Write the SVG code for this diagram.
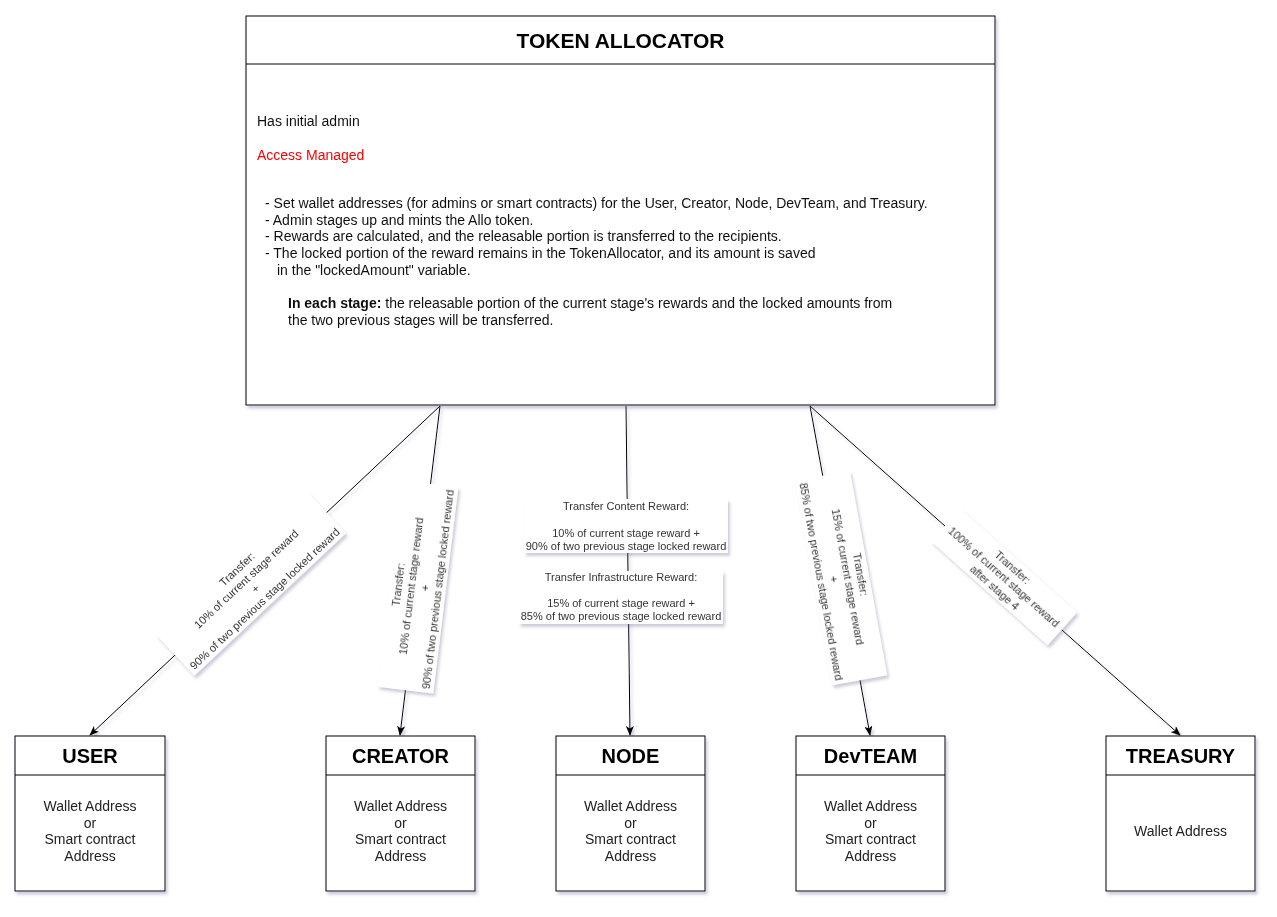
<svg xmlns="http://www.w3.org/2000/svg" width="1277" height="917" viewBox="0 0 1277 917">
<defs>
<filter id="sh" x="-10%" y="-10%" width="120%" height="130%">
<feDropShadow dx="2" dy="3" stdDeviation="1.6" flood-color="#6d6d99" flood-opacity="0.35"/>
</filter>
<marker id="arr" viewBox="0 0 10 8" refX="9" refY="4" markerWidth="10" markerHeight="8" markerUnits="userSpaceOnUse" orient="auto">
<path d="M0,0 L10,4 L0,8 L2.5,4 Z" fill="#000"/>
</marker>
<style>
.box{fill:#fff;stroke:#000;stroke-width:1}
.ttl{font-family:"Liberation Sans",Arial,sans-serif;font-weight:bold;font-size:20px;fill:#000;text-anchor:middle}
.body{font-family:"Liberation Sans",Arial,sans-serif;font-size:14px;fill:#222;text-anchor:middle}
.txt{font-family:"Liberation Sans",Arial,sans-serif;font-size:14px;fill:#111}
.lbl{font-family:"Liberation Sans",Arial,sans-serif;font-size:11px;fill:#333;text-anchor:middle}
.lbg{fill:#fff;stroke:none}
.edge{stroke:#000;stroke-width:1;fill:none;marker-end:url(#arr)}
</style>
</defs>
<rect width="1277" height="917" fill="#fff"/>

<g id="connectors" filter="url(#sh)">
<line class="edge" x1="440" y1="406" x2="90" y2="735"/>
<line class="edge" x1="440" y1="406" x2="400" y2="735"/>
<line class="edge" x1="626" y1="406" x2="630" y2="735"/>
<line class="edge" x1="810" y1="406" x2="870" y2="735"/>
<line class="edge" x1="810" y1="406" x2="1180" y2="735"/>
</g>

<g id="edge-labels" filter="url(#sh)">
<g id="label-user" transform="translate(251,584) rotate(-43.23)">
<rect class="lbg" x="-104" y="-28" width="208" height="56"/>
<text class="lbl" y="-16.5">Transfer:</text>
<text class="lbl" y="-3">10% of current stage reward</text>
<text class="lbl" y="10.5">+</text>
<text class="lbl" y="24">90% of two previous stage locked reward</text>
</g>
<g id="label-creator" transform="translate(418,587) rotate(-83.07)">
<rect class="lbg" x="-104" y="-28" width="208" height="56"/>
<text class="lbl" y="-16.5">Transfer:</text>
<text class="lbl" y="-3">10% of current stage reward</text>
<text class="lbl" y="10.5">+</text>
<text class="lbl" y="24">90% of two previous stage locked reward</text>
</g>
<g id="label-node-content">
<rect class="lbg" x="524" y="499" width="204" height="54"/>
<text class="lbl" x="626" y="510">Transfer Content Reward:</text>
<text class="lbl" x="626" y="537">10% of current stage reward +</text>
<text class="lbl" x="626" y="550">90% of two previous stage locked reward</text>
</g>
<g id="label-node-infra">
<rect class="lbg" x="519" y="571" width="204" height="53"/>
<text class="lbl" x="621" y="581">Transfer Infrastructure Reward:</text>
<text class="lbl" x="621" y="607">15% of current stage reward +</text>
<text class="lbl" x="621" y="620">85% of two previous stage locked reward</text>
</g>
<g id="label-devteam" transform="translate(841,578) rotate(79.66)">
<rect class="lbg" x="-104" y="-28" width="208" height="56"/>
<text class="lbl" y="-16.5">Transfer:</text>
<text class="lbl" y="-3">15% of current stage reward</text>
<text class="lbl" y="10.5">+</text>
<text class="lbl" y="24">85% of two previous stage locked reward</text>
</g>
<g id="label-treasury" transform="translate(1004,577) rotate(41.64)">
<rect class="lbg" x="-78" y="-22" width="156" height="44"/>
<text class="lbl" y="-9.5">Transfer:</text>
<text class="lbl" y="4">100% of current stage reward</text>
<text class="lbl" y="17.5">after stage 4</text>
</g>
</g>

<g id="token-allocator" filter="url(#sh)">
<rect class="box" x="246" y="16" width="749" height="389"/>
<line x1="246" y1="64" x2="995" y2="64" stroke="#000"/>
<text class="ttl" x="620.5" y="47.5" style="font-size:21px">TOKEN ALLOCATOR</text>
<text class="txt" x="257" y="126">Has initial admin</text>
<text class="txt" x="257" y="160" style="fill:#ff0000">Access Managed</text>
<text class="txt" x="265" y="208">- Set wallet addresses (for admins or smart contracts) for the User, Creator, Node, DevTeam, and Treasury.</text>
<text class="txt" x="265" y="224.5">- Admin stages up and mints the Allo token.</text>
<text class="txt" x="265" y="241">- Rewards are calculated, and the releasable portion is transferred to the recipients.</text>
<text class="txt" x="265" y="258">- The locked portion of the reward remains in the TokenAllocator, and its amount is saved</text>
<text class="txt" x="277" y="275">in the "lockedAmount" variable.</text>
<text class="txt" x="288" y="308"><tspan font-weight="bold">In each stage:</tspan> the releasable portion of the current stage's rewards and the locked amounts from</text>
<text class="txt" x="288" y="325">the two previous stages will be transferred.</text>
</g>

<g id="user" filter="url(#sh)">
<rect class="box" x="15" y="736" width="150" height="155"/>
<line x1="15" y1="775" x2="165" y2="775" stroke="#000"/>
<text class="ttl" x="90" y="763">USER</text>
<text class="body" x="90" y="811">Wallet Address</text>
<text class="body" x="90" y="827.5">or</text>
<text class="body" x="90" y="844">Smart contract</text>
<text class="body" x="90" y="860.5">Address</text>
</g>

<g id="creator" filter="url(#sh)">
<rect class="box" x="326" y="736" width="149" height="155"/>
<line x1="326" y1="775" x2="475" y2="775" stroke="#000"/>
<text class="ttl" x="400.5" y="763">CREATOR</text>
<text class="body" x="400.5" y="811">Wallet Address</text>
<text class="body" x="400.5" y="827.5">or</text>
<text class="body" x="400.5" y="844">Smart contract</text>
<text class="body" x="400.5" y="860.5">Address</text>
</g>

<g id="node" filter="url(#sh)">
<rect class="box" x="556" y="736" width="149" height="155"/>
<line x1="556" y1="775" x2="705" y2="775" stroke="#000"/>
<text class="ttl" x="630.5" y="763">NODE</text>
<text class="body" x="630.5" y="811">Wallet Address</text>
<text class="body" x="630.5" y="827.5">or</text>
<text class="body" x="630.5" y="844">Smart contract</text>
<text class="body" x="630.5" y="860.5">Address</text>
</g>

<g id="devteam" filter="url(#sh)">
<rect class="box" x="796" y="736" width="149" height="155"/>
<line x1="796" y1="775" x2="945" y2="775" stroke="#000"/>
<text class="ttl" x="870.5" y="763">DevTEAM</text>
<text class="body" x="870.5" y="811">Wallet Address</text>
<text class="body" x="870.5" y="827.5">or</text>
<text class="body" x="870.5" y="844">Smart contract</text>
<text class="body" x="870.5" y="860.5">Address</text>
</g>

<g id="treasury" filter="url(#sh)">
<rect class="box" x="1106" y="736" width="149" height="155"/>
<line x1="1106" y1="775" x2="1255" y2="775" stroke="#000"/>
<text class="ttl" x="1180.5" y="763">TREASURY</text>
<text class="body" x="1180.5" y="836">Wallet Address</text>
</g>
</svg>
